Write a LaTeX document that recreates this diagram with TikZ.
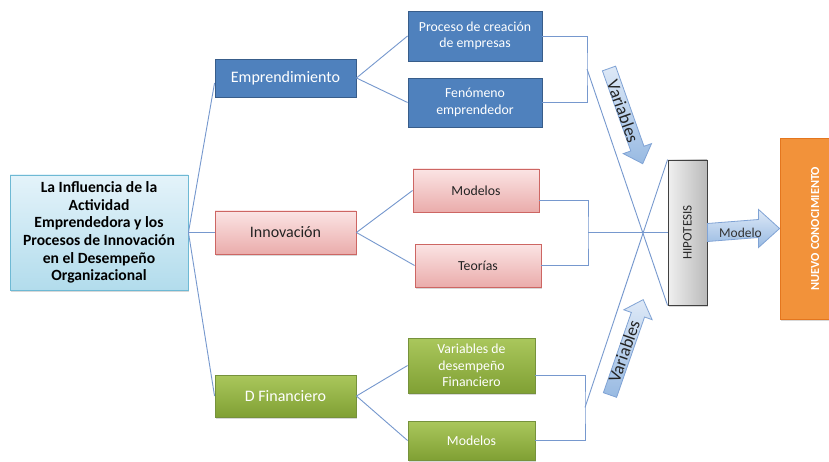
\documentclass[tikz,border=0pt]{standalone}
\usepackage{fontspec}
\setmainfont{Carlito}
\usetikzlibrary{calc,shadows}
\definecolor{conn}{RGB}{118,152,206}
\definecolor{blueF}{RGB}{79,129,189}
\definecolor{blueD}{RGB}{56,93,138}
\definecolor{pinkT}{RGB}{251,228,228}
\definecolor{pinkB}{RGB}{234,172,171}
\definecolor{pinkD}{RGB}{205,102,99}
\definecolor{greenT}{RGB}{170,199,92}
\definecolor{greenB}{RGB}{128,160,52}
\definecolor{greenD}{RGB}{118,146,60}
\definecolor{cyanT}{RGB}{228,243,250}
\definecolor{cyanB}{RGB}{178,220,236}
\definecolor{cyanD}{RGB}{110,185,212}
\definecolor{orangeF}{RGB}{242,146,58}
\definecolor{orangeD}{RGB}{228,118,30}
\definecolor{arrT}{RGB}{222,233,247}
\definecolor{arrB}{RGB}{152,186,226}
\definecolor{arrD}{RGB}{128,163,213}
\definecolor{txtdark}{RGB}{35,35,35}
\tikzset{
  conn/.style={draw=conn, line width=0.9pt},
  box/.style={line width=0.9pt, align=center, inner sep=2pt,
    drop shadow={shadow xshift=1.2pt, shadow yshift=-1.5pt, opacity=0.3}},
  bluebox/.style={box, draw=blueD, fill=blueF, text=white},
  pinkbox/.style={box, draw=pinkD, top color=pinkT, bottom color=pinkB, text=txtdark},
  greenbox/.style={box, draw=greenD, top color=greenT, bottom color=greenB, text=white},
  mainfont/.style={font=\fontsize{16}{18}\selectfont},
  subfont/.style={font=\fontsize{13.8}{16.3}\selectfont},
  arrowshape/.style={draw=arrD, line width=0.8pt, top color=arrT, bottom color=arrB}
}
\begin{document}
\begin{tikzpicture}[x=1pt,y=1pt]
\useasboundingbox (0,0) rectangle (829,461);
\clip (0,0) rectangle (829,461);
\fill[white] (0,0) rectangle (829,461);

% main nodes
\node[box, draw=cyanD, top color=cyanT, bottom color=cyanB, text=black,
      minimum width=178pt, minimum height=115pt,
      font=\bfseries\fontsize{15.6}{17.7}\selectfont] (c) at (99,228.5)
  {La Influencia de la\\Actividad\\Emprendedora y los\\Procesos de Innovación\\en el Desempeño\\Organizacional};

\node[bluebox, mainfont, minimum width=141pt, minimum height=38pt] (emp) at (285.5,383) {Emprendimiento};
\node[pinkbox, mainfont, minimum width=141pt, minimum height=43pt] (inno) at (285.5,228.5) {Innovación};
\node[greenbox, mainfont, minimum width=141pt, minimum height=42pt] (dfin) at (285.5,65) {D Financiero};

\node[bluebox, subfont, minimum width=134pt, minimum height=50pt] (proc) at (475,425) {Proceso de creación\\de empresas};
\node[bluebox, subfont, minimum width=134pt, minimum height=49pt] (fen) at (475,358.5) {Fenómeno\\emprendedor};

\node[pinkbox, subfont, minimum width=126pt, minimum height=43pt] (mod1) at (476,270.5) {Modelos};
\node[pinkbox, subfont, minimum width=126pt, minimum height=43pt] (teo) at (478,195.5) {Teorías};

\node[greenbox, subfont, minimum width=127pt, minimum height=55pt] (vdf) at (471.5,95.5) {Variables de\\desempeño\\Financiero};
\node[greenbox, subfont, minimum width=127pt, minimum height=39pt] (mod2) at (471.5,20.5) {Modelos};

\node[box, draw=black!75, left color=black!6, right color=black!27,
      minimum width=39pt, minimum height=145pt] (hip) at (687.5,228.5) {};
\node[rotate=90, text=black!85, font=\fontsize{13}{15}\selectfont] at (hip.center) {HIPOTESIS};

\node[box, draw=orangeD, fill=orangeF, minimum width=70pt, minimum height=181pt] (nuevo) at (815,232.5) {};
\node[rotate=90, text=white, font=\bfseries\fontsize{12.3}{14}\selectfont] at (nuevo.center) {NUEVO CONOCIMIENTO};

% connectors from the central box
\draw[conn] (c.east) -- ([yshift=-5pt]emp.west);
\draw[conn] (c.east) -- (inno.west);
\draw[conn] (c.east) -- (dfin.west);

\draw[conn] (emp.east) -- (proc.west);
\draw[conn] (emp.east) -- (fen.west);
\draw[conn] (inno.east) -- (mod1.west);
\draw[conn] (inno.east) -- (teo.west);
\draw[conn] (dfin.east) -- (vdf.west);
\draw[conn] (dfin.east) -- (mod2.west);

% brackets
\coordinate (b1) at (587,392);
\coordinate (b2) at (588,228.5);
\coordinate (b3) at (585,53.5);
\draw[conn] (proc.east) -| (b1) |- (fen.east);
\draw[conn] ([yshift=-9.5pt]mod1.east) -| (b2) |- (teo.east);
\draw[conn] ([yshift=-9.5pt]vdf.east) -| (b3) |- (mod2.east);
\draw[conn] (b1) -- (hip.south west);
\draw[conn] (b2) -- (hip.west);
\draw[conn] (b3) -- (hip.north west);

% Modelo arrow
\coordinate (ma) at (hip.east);
\coordinate (mb) at (nuevo.west);
\path[arrowshape] ($(ma)+(0,9)$) -- ($(mb)+(-21,9)$) -- ($(mb)+(-21,19)$) -- (mb)
  -- ($(mb)+(-21,-19)$) -- ($(mb)+(-21,-9)$) -- ($(ma)+(0,-9)$) -- cycle;
\node[text=black!80, font=\fontsize{13.5}{15}\selectfont] (modlab) at ($(ma)+(33,0)$) {Modelo};

% Variables arrows
\begin{scope}[shift={(609,392.5)}, rotate=-70.5]
  \path[arrowshape] (0,7) -- (85,7) -- (85,15) -- (101,0) -- (85,-15) -- (85,-7) -- (0,-7) -- cycle;
  \node[transform shape, text=txtdark, inner sep=0pt, font=\fontsize{17.5}{19}\selectfont] (var1) at (45,-1) {Variables};
\end{scope}
\begin{scope}[shift={(610,66)}, rotate=70.8]
  \path[arrowshape] (0,7) -- (85,7) -- (85,15) -- (101,0) -- (85,-15) -- (85,-7) -- (0,-7) -- cycle;
  \node[transform shape, text=txtdark, inner sep=0pt, font=\fontsize{17.5}{19}\selectfont] (var2) at (46,1) {Variables};
\end{scope}
\end{tikzpicture}
\end{document}
